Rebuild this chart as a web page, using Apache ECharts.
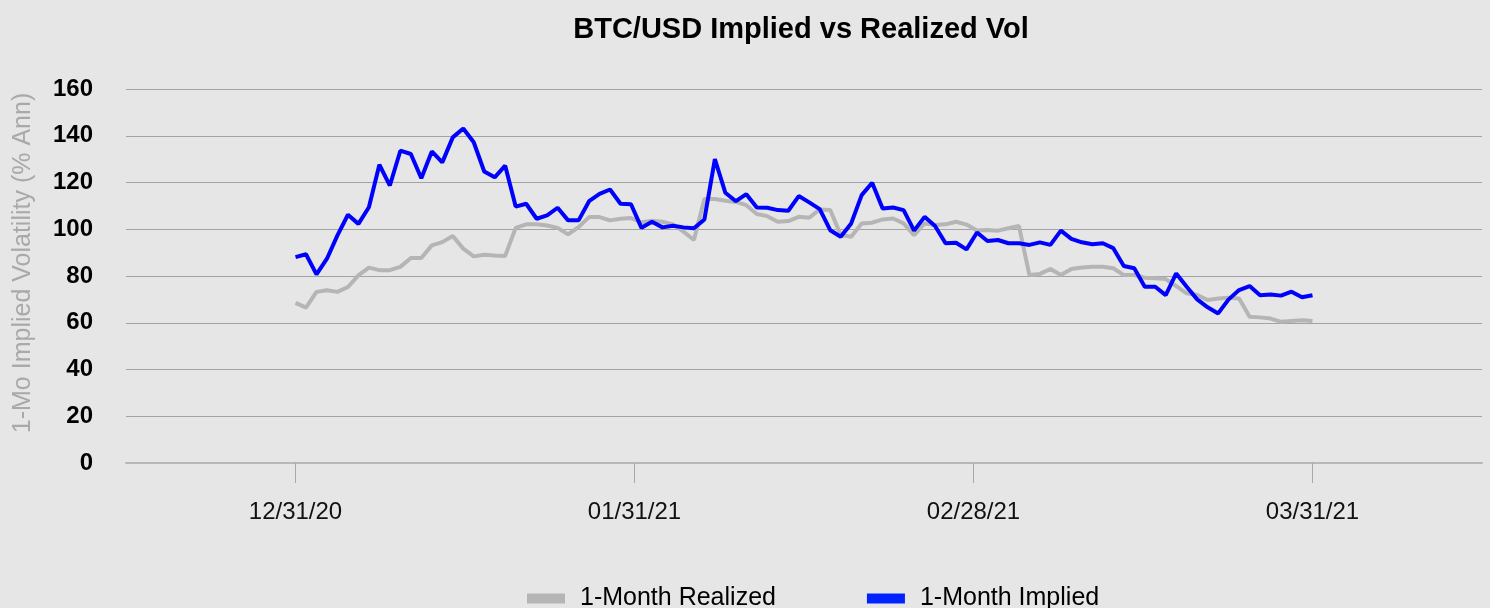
<!DOCTYPE html>
<html>
<head>
<meta charset="utf-8">
<script src="https://cdn.jsdelivr.net/npm/echarts@6/dist/echarts.min.js"></script>
<style>
  html, body { margin: 0; padding: 0; background: #e6e6e6; }
  #chart { width: 1490px; height: 608px; }
</style>
</head>
<body>
<div id="chart"></div>
<script>
// month-end labels on the x axis
const tickLabels = ['12/31/20', '01/31/21', '02/28/21', '03/31/21'];

// 1-month realized vol, one value per observation
const realized = [
  68.5, 66.5, 73.2, 73.9, 73.2, 75.3, 80.3, 83.6, 82.5, 82.5,
  83.9, 87.7, 87.7, 93.1, 94.5, 97.1, 91.7, 88.4, 89.1, 88.8,
  88.6, 100.6, 102.1, 102.1, 101.6, 100.6, 97.8, 100.9, 105.2, 105.2,
  103.8, 104.5, 104.8, 103.0, 103.6, 103.2, 102.1, 99.0, 95.4, 112.9,
  112.9, 112.2, 111.7, 110.3, 106.5, 105.6, 103.2, 103.5, 105.3, 104.9,
  108.5, 108.2, 97.5, 96.8, 102.5, 102.8, 104.2, 104.6, 102.5, 97.5,
  102.5, 101.8, 102.1, 103.2, 102.0, 99.5, 99.7, 99.4, 100.4, 101.4,
  80.4, 80.9, 83.0, 80.4, 83.0, 83.6, 84.0, 84.0, 83.3, 80.4,
  80.4, 79.3, 79.0, 78.7, 75.7, 72.6, 71.9, 69.7, 70.4, 70.7,
  70.4, 62.6, 62.3, 61.8, 60.4, 60.8, 61.1, 60.8
];

// 1-month implied vol
const implied = [
  88.1, 89.3, 80.7, 87.4, 97.4, 106.2, 102.3, 109.4, 127.6, 118.7,
  133.6, 132.2, 121.8, 133.3, 128.6, 139.3, 143.1, 137.2, 124.7, 122.2,
  127.2, 109.7, 110.9, 104.5, 105.9, 109.2, 103.8, 103.8, 112.0, 115.1,
  117.0, 110.9, 110.7, 100.6, 103.2, 100.8, 101.5, 100.8, 100.4, 104.2,
  130.0, 115.6, 112.0, 115.0, 109.3, 109.2, 108.2, 107.9, 114.2, 111.5,
  108.6, 99.6, 96.8, 102.5, 114.6, 119.9, 108.9, 109.3, 108.2, 99.4,
  105.3, 101.4, 94.0, 94.2, 91.4, 98.6, 95.0, 95.4, 94.0, 94.0,
  93.3, 94.4, 93.3, 99.4, 95.9, 94.4, 93.6, 94.0, 91.9, 84.3,
  83.3, 75.4, 75.4, 71.8, 81.1, 75.4, 70.0, 66.6, 64.0, 70.0,
  74.0, 75.7, 71.8, 72.1, 71.6, 73.3, 70.9, 71.8
];

const last = implied.length - 1;
const monthStep = last / 3;
const tickPos = tickLabels.map((_, i) => i * monthStep);

const font = 'Liberation Sans, Arial, sans-serif';
const chart = echarts.init(document.getElementById('chart'));

const option = {
    backgroundColor: '#e6e6e6',
    animation: false,
    title: {
        text: 'BTC/USD Implied vs Realized Vol',
        left: 801,
        top: 15,
        padding: 0,
        textAlign: 'center',
        textStyle: {
            fontFamily: font,
            fontSize: 29,
            fontWeight: 'bold',
            color: '#000'
        }
    },
    legend: {
        left: 522,
        top: 581,
        icon: 'rect',
        itemWidth: 38,
        itemHeight: 10,
        itemGap: 91,
        textStyle: {
            fontFamily: font,
            fontSize: 25,
            color: '#000',
            padding: [0, 0, 0, 10]
        },
        data: ['1-Month Realized', '1-Month Implied']
    },
    grid: {
        left: 126,
        right: 8,
        top: 89,
        bottom: 145,
        containLabel: false
    },
    xAxis: {
        type: 'value',
        min: -monthStep / 2,
        max: last + monthStep / 2,
        splitLine: { show: false },
        axisLine: {
            show: true,
            onZero: false,
            lineStyle: { color: '#b8b8b8', width: 2 }
        },
        axisTick: {
            show: true,
            customValues: tickPos,
            length: 20,
            lineStyle: { color: '#a8a8a8', width: 1 }
        },
        axisLabel: {
            customValues: tickPos,
            margin: 37,
            fontFamily: font,
            fontSize: 24,
            color: '#111',
            formatter: v => tickLabels[Math.round(v / monthStep)]
        }
    },
    yAxis: {
        type: 'value',
        min: 0,
        max: 160,
        interval: 20,
        name: '1-Mo Implied Volatility (% Ann)',
        nameLocation: 'middle',
        nameGap: 90,
        nameTextStyle: {
            fontFamily: font,
            fontSize: 25,
            color: '#a9a9a9',
            padding: [0, 0, 0, 26]
        },
        axisLine: { show: false },
        axisTick: { show: false },
        axisLabel: {
            margin: 33,
            fontFamily: font,
            fontSize: 24,
            fontWeight: 'bold',
            color: '#000'
        },
        splitLine: {
            show: true,
            lineStyle: { color: '#a3a3a3', width: 1 }
        }
    },
    series: [
        {
            name: '1-Month Realized',
            type: 'line',
            showSymbol: false,
            color: '#b5b5b5',
            lineStyle: { width: 4, color: '#b5b5b5' },
            data: realized.map((v, i) => [i, v])
        },
        {
            name: '1-Month Implied',
            type: 'line',
            showSymbol: false,
            color: '#0022ff',
            lineStyle: { width: 4, color: '#0000ff' },
            data: implied.map((v, i) => [i, v])
        }
    ]
};

chart.setOption(option);

window.addEventListener('resize', _ => {
    chart.resize();
});
</script>
</body>
</html>
